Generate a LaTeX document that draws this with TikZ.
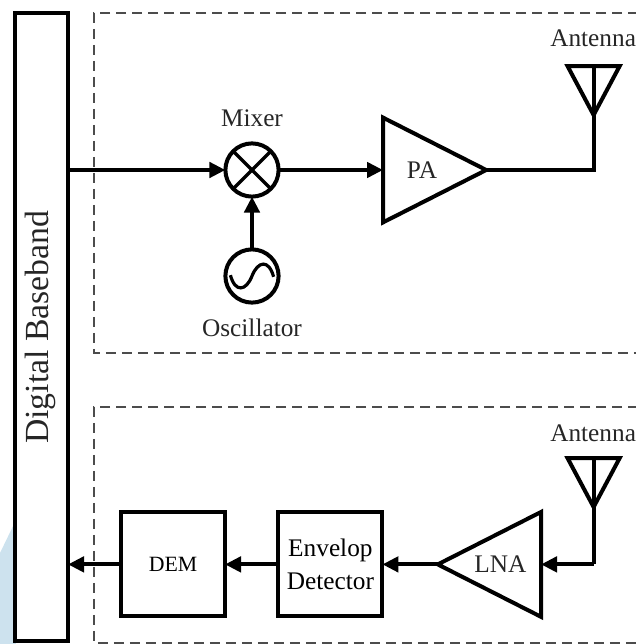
\documentclass[tikz,border=0pt]{standalone}
\usepackage{fontspec}
\setmainfont{Liberation Serif}
\usetikzlibrary{arrows.meta,shapes.geometric}
\definecolor{wmblue}{RGB}{205,226,238}
\tikzset{
  block/.style={draw,line width=0.1cm,minimum size=2.6cm,outer sep=0pt,align=center,font=\fontsize{18}{23}\selectfont},
  amp/.style={draw,line width=0.1cm,isosceles triangle,isosceles triangle stretches,minimum width=2.62cm,minimum height=2.58cm,inner sep=0pt,outer sep=0pt},
  ring/.style={draw,line width=0.1cm,circle,minimum size=1.33cm,outer sep=0pt},
  sig/.style={line width=0.1cm,-{Triangle[length=0.4cm,width=0.38cm]}},
  wire/.style={line width=0.1cm},
  frame/.style={line width=0.05cm,dash pattern=on 0.25cm off 0.15cm,black!70},
  tag/.style={text=black!85,inner sep=0pt,font=\fontsize{18}{22}\selectfont}
}
\begin{document}
\begin{tikzpicture}
        \useasboundingbox (0,0) rectangle (15.9,16.1);
        \fill[wmblue] (0,2.275) -- (0.4,3.1) -- (0.4,0) -- (0,0);
        \node[draw,line width=0.1cm,minimum width=1.32cm,minimum height=15.7cm,outer sep=0pt] (bb) at (1.04,7.925) {};
        \node[rotate=90,tag,font=\fontsize{24}{28}\selectfont] (bbtext) at (1.01,7.92) {Digital Baseband};
        % dashed frames run off the right side
        \draw[frame] (15.95,15.775) -- (2.35,15.775) -- (2.35,7.275) -- (15.95,7.275);
        \draw[frame] (15.95,5.925) -- (2.35,5.925) -- (2.35,0.025) -- (15.95,0.025);
        % upper chain
        \node[ring] (mixer) at (6.3,11.85) {};
        \draw[line width=0.08cm] (mixer.45) -- (mixer.225);
        \draw[line width=0.08cm] (mixer.135) -- (mixer.315);
        \node[ring] (osc) at (6.3,9.2) {};
        \draw[line width=0.08cm,shift={(osc.center)}] (-0.54,0.02) .. controls (-0.42,-0.42) and (-0.15,-0.38) .. (0,0) .. controls (0.15,0.38) and (0.42,0.42) .. (0.54,-0.02);
        \node[amp,anchor=lower side] (pa) at (9.575,11.85) {};
        \node[amp,minimum width=1.3cm,minimum height=1.22cm,shape border rotate=270,anchor=apex] (anta) at (14.84,13.225) {};
        \draw[wire] (anta.lower side) -- (anta.apex);
        \coordinate (corna) at (14.84,11.85);
        \draw[sig] (bb.east |- mixer) -- (mixer);
        \draw[sig] (mixer) -- (pa.lower side);
        \draw[sig] (osc) -- (mixer);
        \draw[wire] (pa.apex) -- (corna) -- (anta.apex);
        \node[tag] (patext) at (10.55,11.85) {PA};
        \node[tag] (mixertext) at (6.3,13.15) {Mixer};
        \node[tag] (osctext) at (6.3,7.9) {Oscillator};
        \node[tag,anchor=west] (antatext) at (13.75,15.15) {Antenna};
        % lower chain
        \node[block,font=\fontsize{15.5}{20}\selectfont] (dem) at (4.325,1.99) {DEM};
        \node[block] (env) at (8.26,1.99) {Envelop\\Detector};
        \node[amp,shape border rotate=180,anchor=lower side] (lna) at (13.525,1.99) {};
        \node[amp,minimum width=1.3cm,minimum height=1.22cm,shape border rotate=270,anchor=apex] (antb) at (14.84,3.425) {};
        \draw[wire] (antb.lower side) -- (antb.apex);
        \coordinate (cornb) at (14.84,1.99);
        \draw[wire] (antb.apex) -- (cornb);
        \draw[sig] (cornb) -- (lna.lower side);
        \draw[sig] (lna.apex) -- (env.east);
        \draw[sig] (env.west) -- (dem.east);
        \draw[sig] (dem.west) -- (bb.east |- dem);
        \node[tag] (lnatext) at (12.51,1.99) {LNA};
        \node[tag,anchor=west] (antbtext) at (13.75,5.275) {Antenna};
      \end{tikzpicture}
\end{document}
